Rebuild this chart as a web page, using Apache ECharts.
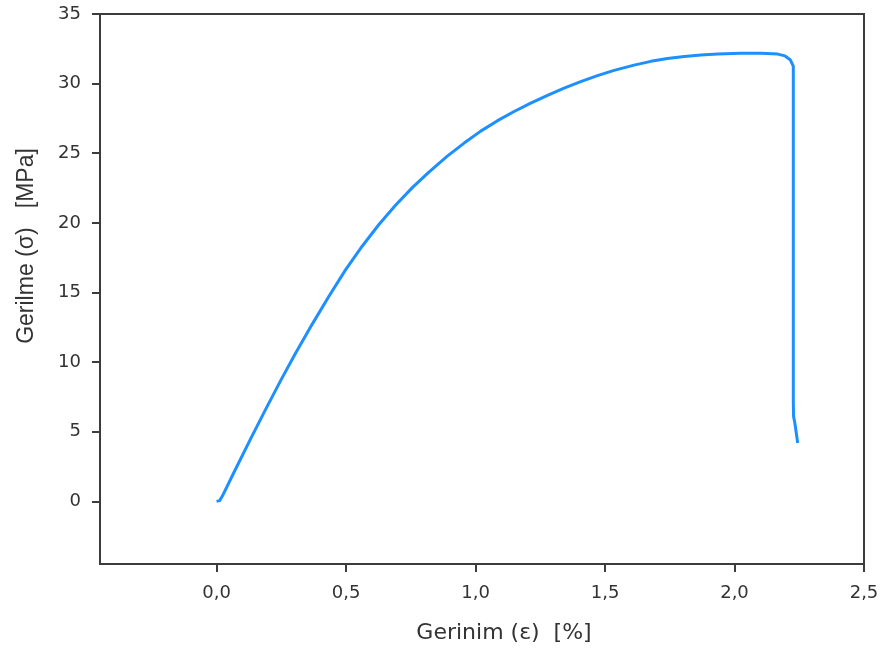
<!DOCTYPE html>
<html>
<head>
<meta charset="utf-8">
<script src="https://cdn.jsdelivr.net/npm/echarts@6/dist/echarts.min.js"></script>
<style>html,body{margin:0;padding:0;background:#fff}#c{width:884px;height:662px}</style>
</head>
<body>
<div id="c"></div>
<script>
const strain = [0, 0.012, 0.022, 0.067, 0.131, 0.196, 0.250, 0.305, 0.369, 0.434, 0.498, 0.563, 0.627, 0.691, 0.756, 0.820, 0.891, 0.956, 1.020, 1.085, 1.149, 1.213, 1.278, 1.342, 1.406, 1.471, 1.535, 1.612, 1.677, 1.741, 1.806, 1.870, 1.935, 2.025, 2.102, 2.167, 2.195, 2.215, 2.227, 2.227, 2.228, 2.233, 2.244];
const stress = [0, 0.05, 0.36, 2.07, 4.47, 6.84, 8.76, 10.63, 12.71, 14.73, 16.62, 18.34, 19.88, 21.26, 22.53, 23.65, 24.79, 25.73, 26.59, 27.34, 28.0, 28.6, 29.15, 29.67, 30.14, 30.57, 30.95, 31.33, 31.6, 31.8, 31.95, 32.05, 32.12, 32.18, 32.18, 32.12, 31.99, 31.72, 31.25, 7.3, 6.10, 5.63, 4.19];
const xTicks = [0, 0.5, 1.0, 1.5, 2.0, 2.5];
const yTicks = [0, 5, 10, 15, 20, 25, 30, 35];
const xTitle = 'Gerinim (ε)  [%]';
const yTitle = 'Gerilme (σ)   [MPa]';

const axisColor = '#3c3c3c';
const textColor = '#333333';
const chart = echarts.init(document.getElementById('c'), null, {renderer: 'canvas'});
chart.setOption({
  animation: false,
  backgroundColor: '#ffffff',
  grid: {left: 100, right: 20, top: 14, bottom: 98, show: true, borderColor: axisColor, borderWidth: 2, containLabel: false},
  xAxis: {
    type: 'value', min: -0.45, max: 2.5,
    splitLine: {show: false},
    axisLine: {show: true, onZero: false, lineStyle: {color: axisColor, width: 2}},
    axisTick: {show: true, length: 8, customValues: xTicks, lineStyle: {color: axisColor, width: 2}},
    axisLabel: {customValues: xTicks, margin: 20, color: textColor, fontFamily: 'DejaVu Sans', fontSize: 18,
      formatter: v => v.toFixed(1).replace('.', ',')},
    name: xTitle, nameLocation: 'middle', nameGap: 58,
    nameTextStyle: {color: textColor, fontFamily: 'DejaVu Sans', fontSize: 22, padding: [0, 0, 0, 44]}
  },
  yAxis: {
    type: 'value', min: -4.5, max: 35,
    splitLine: {show: false},
    axisLine: {show: true, onZero: false, lineStyle: {color: axisColor, width: 2}},
    axisTick: {show: true, length: 8, customValues: yTicks, lineStyle: {color: axisColor, width: 2}},
    axisLabel: {customValues: yTicks, margin: 19, color: textColor, fontFamily: 'DejaVu Sans', fontSize: 18},
    name: yTitle, nameLocation: 'middle', nameGap: 62,
    nameTextStyle: {color: textColor, fontFamily: 'Liberation Sans', fontSize: 23, padding: [0, 0, 0, 86]}
  },
  series: [{
    type: 'line',
    data: strain.map((x, i) => [x, stress[i]]),
    showSymbol: false,
    lineStyle: {color: '#1E8FFF', width: 3},
    smooth: false
  }]
});
</script>
</body>
</html>
